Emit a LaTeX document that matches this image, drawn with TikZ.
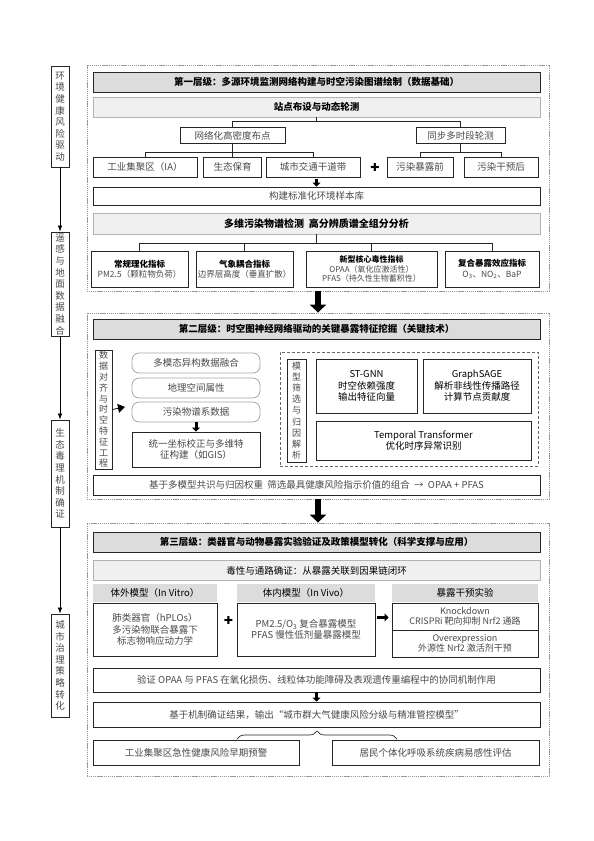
\documentclass[tikz,border=0pt]{standalone}
\usepackage{fontspec}
\setmainfont{Noto Sans CJK SC}
\newfontfamily\symfont{DejaVu Sans}
\usepackage{xcolor}
\usetikzlibrary{positioning}
\usetikzlibrary{arrows.meta}
\usetikzlibrary{decorations.pathreplacing}
\definecolor{barfill}{HTML}{DCDCDC}
\definecolor{subfill}{HTML}{F0F0F0}
\definecolor{ink}{HTML}{4A4A4A}
\tikzset{
  % A dotted panel round one layer
  panel/.style={draw=black!40, line width=0.8pt, dash pattern=on 1.2pt off 0.7pt},
  % The title bar of a layer
  bar/.style={draw=black!85, fill=barfill, line width=0.9pt, inner sep=0pt,
    font=\fontsize{9.5}{11}\selectfont\bfseries, minimum width=447, minimum height=20},
  % A light sub-header bar
  subbar/.style={draw=black!30, fill=subfill, line width=0.8pt, inner sep=0pt,
    font=\fontsize{9.5}{11}\selectfont\bfseries, minimum width=447, minimum height=20},
  % A plain content box
  box/.style={draw=black!85, fill=white, line width=0.8pt, inner sep=1pt, align=center,
    text=ink, font=\fontsize{9.5}{11.5}\selectfont, minimum height=20},
  % A rounded data-source box
  soft/.style={draw=black!35, fill=white, rounded corners=7pt, line width=0.8pt,
    text=ink, font=\fontsize{9.5}{11}\selectfont, minimum width=128, minimum height=20},
  % A column header in layer three
  hdr/.style={fill=barfill, inner sep=0pt, font=\fontsize{9.5}{11}\selectfont,
    minimum height=18},
  % A narrow box with stacked characters
  vbox/.style={draw=black!85, fill=white, line width=0.8pt, inner sep=0pt, align=center,
    text=ink, font=\fontsize{9.5}{11.6}\selectfont, minimum width=18},
  % Connectors
  conn/.style={draw=black!85, line width=0.7pt},
  flow/.style={draw=black, line width=0.7pt, -{Latex[length=6pt, width=4.5pt]}},
  blkbig/.style={draw=black, line width=6pt, -{Triangle[length=8pt, width=16pt]}},
  blks/.style={draw=black, line width=3pt, -{Triangle[length=4pt, width=8pt]}},
  crossmark/.style={font=\symfont\fontsize{11}{11}\selectfont, inner sep=0pt},
}

\begin{document}
\begin{tikzpicture}[x=1pt, y=-1pt]
  \useasboundingbox[fill=white] (0,0) rectangle (594,841);

  % --- Left flow column ---------------------------------------------------
  \node[vbox, minimum height=101] (drv) at (60,116.5) {环\\境\\健\\康\\风\\险\\驱\\动};
  \node[vbox, minimum height=104] (fus) at (60,284)   {遥\\感\\与\\地\\面\\数\\据\\融\\合};
  \node[vbox, minimum height=107] (tox) at (60,473.5) {生\\态\\毒\\理\\机\\制\\确\\证};
  \node[vbox, minimum height=103] (gov) at (60,665.5) {城\\市\\治\\理\\策\\略\\转\\化};
  \draw[flow] (drv) -- (fus);
  \draw[flow] (fus) -- (tox);
  \draw[flow] (tox) -- (gov);

  % --- Layer one ------------------------------------------------------------
  \node[panel, minimum width=462, minimum height=226] (p1) at (318,178) {};
  \node[bar]    (t1)   at (316.5,82)  {第一层级：多源环境监测网络构建与时空污染图谱绘制（数据基础）};
  \node[subbar] (site) at (316.5,107) {站点布设与动态轮测};

  \node[box, minimum width=105, minimum height=16] (grid) at (232.5,135.5) {网络化高密度布点};
  \node[box, minimum width=89,  minimum height=16] (sync) at (460.5,135.5) {同步多时段轮测};

  \node[box, minimum width=104] (ia)   at (145,167)   {工业集聚区（IA）};
  \node[box, minimum width=58]  (eco)  at (232.5,167) {生态保育};
  \node[box, minimum width=94]  (road) at (313,167)   {城市交通干道带};
  \node[crossmark] (plus1) at (375,167) {✚};
  \node[box, minimum width=66]  (pre)  at (420,167)   {污染暴露前};
  \node[box, minimum width=74]  (post) at (501,167)   {污染干预后};

  \node[box, minimum width=447, minimum height=18] (lib) at (316.5,196) {构建标准化环境样本库};
  \node[subbar, minimum height=21, font=\fontsize{10}{12}\selectfont\bfseries] (multi) at (316.5,223.5)
       {多维污染物谱检测\ \ 高分辨质谱全组分分析};

  \node[box, minimum width=97,  minimum height=36, font=\fontsize{8.5}{10.5}\selectfont] (phys) at (139.5,269)
       {\textbf{\color{black}常规理化指标}\\PM2.5（颗粒物负荷）};
  \node[box, minimum width=97,  minimum height=36, font=\fontsize{8.5}{10.5}\selectfont] (met)  at (244.5,269)
       {\textbf{\color{black}气象耦合指标}\\边界层高度（垂直扩散）};
  \node[box, minimum width=131, minimum height=36, font=\fontsize{8}{9.6}\selectfont] (core) at (371.5,269)
       {\textbf{\color{black}新型核心毒性指标}\\OPAA（氧化应激活性）\\PFAS（持久性生物蓄积性）};
  \node[box, minimum width=94,  minimum height=36, font=\fontsize{8.5}{10.5}\selectfont] (comp) at (492,269)
       {\textbf{\color{black}复合暴露效应指标}\\O\textsubscript{3}、NO\textsubscript{2}、BaP};

  \draw[conn] (site.south) -- ++(0,4) coordinate (j1);
  \draw[conn] (j1) -| (grid.north);
  \draw[conn] (j1) -| (sync.north);
  \draw[conn] (grid.south) -- ++(0,8.5) coordinate (j2);
  \draw[conn] (j2) -| (ia.north);
  \draw[conn] (j2) -| (eco.north);
  \draw[conn] (j2) -| (road.north);
  \draw[conn] (sync.south) -- ++(0,8.5) coordinate (j3);
  \draw[conn] (j3) -| (pre.north);
  \draw[conn] (j3) -| (post.north);
  \coordinate (a1) at (316.5,178.5);
  \draw[blks] (a1) -- (lib.north);
  \draw[conn] (multi.south) -- ++(0,9) coordinate (j4);
  \draw[conn] (j4) -| (phys.north);
  \draw[conn] (j4) -| (met.north);
  \draw[conn] (j4) -| (core.north);
  \draw[conn] (j4) -| (comp.north);

  % --- Layer two ------------------------------------------------------------
  \node[panel, minimum width=462, minimum height=186] (p2) at (318,406) {};
  \draw[blkbig] (p1.south) -- (p2.north);
  \node[bar] (t2) at (316.5,329) {第二层级：时空图神经网络驱动的关键暴露特征挖掘（关键技术）};

  \node[vbox, minimum width=17, minimum height=119, font=\fontsize{9}{10.8}\selectfont] (align) at (103.5,409.5)
       {数\\据\\对\\齐\\与\\时\\空\\特\\征\\工\\程};
  \coordinate (a2) at (125,407);
  \draw[-{Triangle[length=7pt, width=9pt]}, line width=0.8pt] (align.east) -- (a2);

  \node[soft] (mm)   at (196,363) {多模态异构数据融合};
  \node[soft] (geo)  at (196,388) {地理空间属性};
  \node[soft] (spec) at (196,412) {污染物谱系数据};
  \node[box, minimum width=128, minimum height=35] (unify) at (196,449.5)
       {统一坐标校正与多维特\\征构建（如GIS）};
  \draw[blks] (spec.south) -- (unify.north);

  \node[draw=black!60, densely dashed, line width=0.8pt, minimum width=258, minimum height=114] (dbox) at (409,409) {};
  \node[vbox, minimum width=19, minimum height=103, font=\fontsize{9}{11.2}\selectfont] (sel) at (296.5,410.5)
       {模\\型\\筛\\选\\与\\归\\因\\解\\析};
  \node[box, minimum width=101, minimum height=54, text=black] (stgnn) at (366.5,386)
       {ST-GNN\\时空依赖强度\\输出特征向量};
  \node[box, minimum width=108, minimum height=54, text=black] (sage) at (477,386)
       {GraphSAGE\\解析非线性传播路径\\计算节点贡献度};
  \node[box, minimum width=215, minimum height=39, text=black] (tt) at (423.5,440.5)
       {Temporal Transformer\\优化时序异常识别};

  \node[box, minimum width=447] (combo) at (316.5,485)
       {基于多模型共识与归因权重\ \ 筛选最具健康风险指示价值的组合\ \ → \ OPAA + PFAS};

  % --- Layer three ----------------------------------------------------------
  \node[panel, minimum width=462, minimum height=253] (p3) at (318,649.5) {};
  \draw[blkbig] (p2.south) -- (p3.north);
  \node[bar] (t3) at (316.5,542) {第三层级：类器官与动物暴露实验验证及政策模型转化（科学支撑与应用）};
  \node[subbar, font=\fontsize{9.5}{11}\selectfont] (val) at (316.5,570.5) {毒性与通路确证：从暴露关联到因果链闭环};

  \node[hdr, minimum width=124] (h1) at (155,593) {体外模型（In Vitro）};
  \node[hdr, minimum width=138] (h2) at (306,593) {体内模型（In Vivo）};
  \node[hdr, minimum width=146] (h3) at (465,593) {暴露干预实验};

  \node[box, minimum width=124, minimum height=53] (vitro) at (155,629.5)
       {肺类器官（hPLOs）\\多污染物联合暴露下\\标志物响应动力学};
  \node[crossmark] (plus2) at (228.5,620) {✚};
  \node[box, minimum width=138, minimum height=53] (vivo) at (306,629.5)
       {PM2.5/O\textsubscript{3}\ 复合暴露模型\\PFAS 慢性低剂量暴露模型};
  \node[box, minimum width=146, minimum height=27, font=\fontsize{9}{10.5}\selectfont] (kd) at (465,616.5)
       {Knockdown\\CRISPRi 靶向抑制 Nrf2 通路};
  \node[box, minimum width=146, minimum height=27, font=\fontsize{9}{10.5}\selectfont] (oe) at (465,643.5)
       {Overexpression\\外源性 Nrf2 激活剂干预};
  \draw[blks, shorten <=1.5pt, shorten >=3pt] ([yshift=12pt]vivo.east) -- ([yshift=-1pt]kd.west -| oe.west);

  \node[box, minimum width=447, minimum height=24] (mech) at (316.5,680)
       {验证 OPAA 与 PFAS 在氧化损伤、线粒体功能障碍及表观遗传重编程中的协同机制作用};
  \node[box, minimum width=447, minimum height=25] (model) at (316.5,714.5)
       {基于机制确证结果，输出“城市群大气健康风险分级与精准管控模型”};
  \draw[blks] (mech.south) -- (model.north);

  \node[box, minimum width=206, minimum height=25] (warn) at (196,752.5)   {工业集聚区急性健康风险早期预警};
  \node[box, minimum width=207, minimum height=25] (risk) at (435.5,752.5) {居民个体化呼吸系统疾病易感性评估};
  \coordinate (b1) at (237,739);
  \coordinate (b2) at (397,739);
  \draw[conn, decorate, decoration={brace, amplitude=8pt}] (b1) -- (b2);

\end{tikzpicture}
\end{document}
